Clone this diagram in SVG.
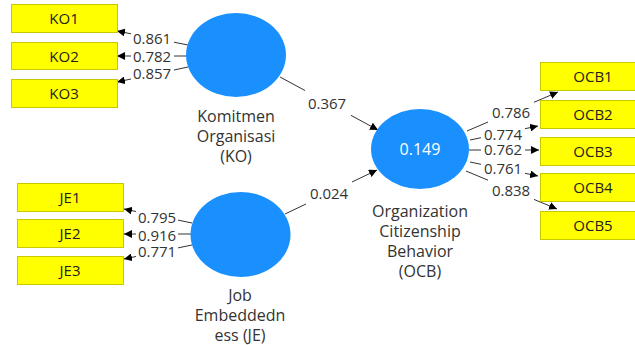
<svg xmlns="http://www.w3.org/2000/svg" width="635" height="345" viewBox="0 0 635 345">
<style>
.bg{fill:#ffffff}
.box{fill:#ffff00;stroke:#c8c800;stroke-width:1}
.lv{fill:#1a90ff}
.bt{font-family:"Open Sans","Noto Sans",sans-serif;font-size:15px;fill:#222;text-anchor:middle}
.nt{font-family:"Open Sans","Noto Sans",sans-serif;font-size:16px;fill:#333;text-anchor:middle}
.wt{font-family:"Open Sans","Noto Sans",sans-serif;font-size:16px;fill:#ffffff;text-anchor:middle}
.lt{font-family:"Open Sans","Noto Sans",sans-serif;font-size:15px;fill:#333;text-anchor:middle}
.ln{fill:none;stroke:#333;stroke-width:1;marker-end:url(#ah)}
</style>
<defs>
<marker id="ah" viewBox="0 0 10 10" refX="10" refY="5" markerWidth="8" markerHeight="8" markerUnits="userSpaceOnUse" orient="auto">
<path d="M0,0 L10,5 L0,10 Z" fill="#000"/>
</marker>
</defs>
<rect class="bg" x="0" y="0" width="635" height="345"/>
<g id="connectors">
<path class="ln" d="M188,45 L174,42.2 M131,33.8 L117,31"/>
<path class="ln" d="M188,56 L174,56 M131,56 L117,56"/>
<path class="ln" d="M188,67 L174,70 M131,79 L117,82"/>
<path class="ln" d="M192,223 L178,220.1 M136,211.5 L124,209"/>
<path class="ln" d="M191,234 L178,234 M136,234 L124,234"/>
<path class="ln" d="M192,245 L178,247.9 M136,256.5 L124,259"/>
<path class="ln" d="M280,77 L305,90.5 M351,115.4 L378,130"/>
<path class="ln" d="M285,214 L306,204 M352,182 L377,170"/>
<path class="ln" d="M467,131 L488,122 M534,102.3 L558,92"/>
<path class="ln" d="M470,140 L481,137.7 M525,128.7 L538,126"/>
<path class="ln" d="M469,150 L481,150 M525,150 L539,150"/>
<path class="ln" d="M470,162 L481,164.3 M525,173.3 L538,176"/>
<path class="ln" d="M466,171 L488,180.2 M534,199.4 L557,209"/>
<text class="lt" x="152" y="44">0.861</text>
<text class="lt" x="152" y="62">0.782</text>
<text class="lt" x="152" y="79">0.857</text>
<text class="lt" x="157" y="223">0.795</text>
<text class="lt" x="157" y="241">0.916</text>
<text class="lt" x="157" y="257">0.771</text>
<text class="lt" x="327" y="109">0.367</text>
<text class="lt" x="329" y="199">0.024</text>
<text class="lt" x="511" y="118">0.786</text>
<text class="lt" x="503" y="140">0.774</text>
<text class="lt" x="503" y="155">0.762</text>
<text class="lt" x="503" y="174">0.761</text>
<text class="lt" x="511" y="196">0.838</text>
</g>
<g id="KO1"><rect class="box" x="11.5" y="4.5" width="106" height="28"/><text class="bt" x="64" y="24">KO1</text></g>
<g id="KO2"><rect class="box" x="11.5" y="42.5" width="106" height="27"/><text class="bt" x="64" y="61.5">KO2</text></g>
<g id="KO3"><rect class="box" x="11.5" y="79.5" width="106" height="28"/><text class="bt" x="64" y="99">KO3</text></g>
<g id="JE1"><rect class="box" x="17.5" y="183.5" width="106" height="28"/><text class="bt" x="70" y="203">JE1</text></g>
<g id="JE2"><rect class="box" x="17.5" y="219.5" width="106" height="28"/><text class="bt" x="70" y="239">JE2</text></g>
<g id="JE3"><rect class="box" x="17.5" y="256.5" width="106" height="28"/><text class="bt" x="70" y="276">JE3</text></g>
<g id="OCB1"><rect class="box" x="540.5" y="62.5" width="106" height="28"/><text class="bt" x="593" y="82">OCB1</text></g>
<g id="OCB2"><rect class="box" x="540.5" y="100.5" width="106" height="28"/><text class="bt" x="593" y="120">OCB2</text></g>
<g id="OCB3"><rect class="box" x="540.5" y="137.5" width="106" height="28"/><text class="bt" x="593" y="157">OCB3</text></g>
<g id="OCB4"><rect class="box" x="540.5" y="173.5" width="106" height="28"/><text class="bt" x="593" y="193">OCB4</text></g>
<g id="OCB5"><rect class="box" x="540.5" y="211.5" width="106" height="28"/><text class="bt" x="593" y="231">OCB5</text></g>
<g id="KO">
<ellipse class="lv" cx="236" cy="55" rx="50" ry="42"/>
<text class="nt" x="236" y="122">Komitmen</text>
<text class="nt" x="236" y="142">Organisasi</text>
<text class="nt" x="236" y="162">(KO)</text>
</g>
<g id="JE">
<ellipse class="lv" cx="240.5" cy="234.5" rx="50" ry="42.5"/>
<text class="nt" x="240" y="301">Job</text>
<text class="nt" x="240" y="321">Embeddedn</text>
<text class="nt" x="240" y="341">ess (JE)</text>
</g>
<g id="OCB">
<ellipse class="lv" cx="420" cy="149" rx="49" ry="40"/>
<text class="wt" x="420" y="155">0.149</text>
<text class="nt" x="420" y="217">Organization</text>
<text class="nt" x="420" y="237">Citizenship</text>
<text class="nt" x="420" y="257">Behavior</text>
<text class="nt" x="420" y="277">(OCB)</text>
</g>
</svg>
